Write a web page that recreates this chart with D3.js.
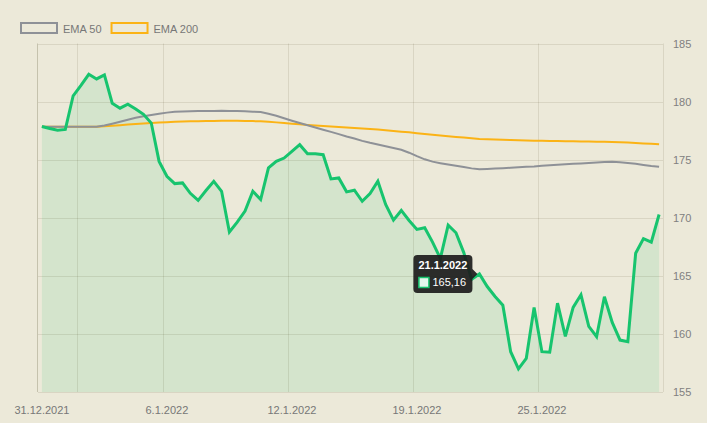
<!DOCTYPE html>
<html>
<head>
<meta charset="utf-8">
<script src="https://cdn.jsdelivr.net/npm/d3@7"></script>
<style>
  html, body { margin: 0; padding: 0; background: #ece9d9; }
  svg { display: block; font-family: "Liberation Sans", Arial, sans-serif; }
</style>
</head>
<body>
<svg id="chart" width="707" height="423"></svg>
<script>
// ---- data ----
const days = ["31.12.2021","3.1.2022","4.1.2022","5.1.2022","6.1.2022","7.1.2022","10.1.2022","11.1.2022",
  "12.1.2022","13.1.2022","14.1.2022","18.1.2022","19.1.2022","20.1.2022","21.1.2022","24.1.2022",
  "25.1.2022","26.1.2022","27.1.2022","28.1.2022"];
const sessions = ["09:30","11:30","13:30","15:30"];
const categories = days.flatMap(d => sessions.map(s => d + " " + s));

const price = [177.86,177.68,177.54,177.6, 180.5,181.4,182.35,181.95, 182.3,179.86,179.43,179.78,
  179.37,178.9,178.15,174.85, 173.57,172.94,173.0,172.1, 171.5,172.34,173.14,172.28,
  168.77,169.62,170.57,172.28, 171.57,174.29,174.85,175.14, 175.71,176.29,175.51,175.51,
  175.43,173.34,173.43,172.23, 172.37,171.42,172.08,173.14, 171.14,169.8,170.63,169.77,
  169.0,169.14,167.9,166.5, 169.37,168.71,167.0,164.7, 165.16,164.08,163.22,162.47,
  158.47,156.99,157.9,162.28, 158.47,158.42,162.65,159.79, 162.28,163.37,160.65,159.76,
  163.2,160.99,159.47,159.33, 166.94,168.2,167.9,170.28];

const ema50 = [177.83,177.83,177.83,177.83,177.83,177.83,177.83,177.83, 177.95,178.1,178.26,178.43,
  178.6,178.74,178.85,178.96, 179.05,179.12,179.14,179.16, 179.18,179.19,179.2,179.21,
  179.2,179.18,179.16,179.13, 179.1,178.96,178.78,178.56, 178.35,178.15,177.96,177.77,
  177.58,177.39,177.2,177.0, 176.82,176.62,176.45,176.3, 176.15,176.0,175.85,175.6,
  175.3,175.03,174.83,174.7, 174.58,174.47,174.36,174.25, 174.18,174.2,174.23,174.26,
  174.3,174.34,174.38,174.42, 174.48,174.52,174.56,174.6, 174.64,174.68,174.72,174.76,
  174.79,174.81,174.78,174.72, 174.65,174.55,174.46,174.4];

const ema200 = [177.83,177.83,177.83,177.83,177.83,177.83,177.83,177.83, 177.87,177.92,177.97,178.02,
  178.07,178.12,178.16,178.19, 178.23,178.26,178.28,178.3, 178.31,178.32,178.33,178.34,
  178.34,178.34,178.33,178.32, 178.3,178.26,178.21,178.15, 178.1,178.04,177.99,177.94,
  177.89,177.85,177.81,177.77, 177.73,177.69,177.65,177.6, 177.54,177.47,177.41,177.35,
  177.27,177.2,177.14,177.08, 177.02,176.96,176.9,176.84, 176.78,176.75,176.73,176.71,
  176.69,176.67,176.65,176.63, 176.62,176.61,176.6,176.59, 176.58,176.57,176.56,176.55,
  176.54,176.52,176.5,176.47, 176.44,176.4,176.36,176.32];

const yTicks = [155,160,165,170,175,180,185];
const xLabelCats = [categories[0], categories[16], categories[32], categories[48], categories[64]];
const xGridCats = [categories[5], categories[16], categories[32], categories[48], categories[64]];
const legendItems = [{name: "EMA 50", color: "#8e9197"}, {name: "EMA 200", color: "#fbb316"}];
const tooltipIndex = 56;
const tooltipValueText = "165,16";

// ---- layout ----
(function draw() {
const svg = d3.select("#chart");
const pLeft = 38, pRight = 663, pTop = 43.5, pBottom = 392;
const x = d3.scaleBand().domain(categories).range([pLeft, pRight]);
const bw = x.bandwidth();
const cx = c => x(c) + bw / 2;
const y = d3.scaleLinear().domain([155, 185]).range([pBottom, pTop]);

svg.append("rect").attr("width", 707).attr("height", 423).attr("fill", "#ece9d9");

const rows = categories.map((c, i) => ({c, p: price[i], e50: ema50[i], e200: ema200[i]}));
svg.append("path").datum(rows)
  .attr("fill", "#d4e4cc")
  .attr("d", d3.area().x(d => cx(d.c)).y0(y(155)).y1(d => y(d.p)));

const grid = svg.append("g").attr("stroke", "rgba(60,55,20,0.11)").attr("stroke-width", 1);
grid.selectAll("line.h").data(yTicks).join("line")
  .attr("x1", pLeft).attr("x2", pRight)
  .attr("y1", d => Math.round(y(d)) + 0.5).attr("y2", d => Math.round(y(d)) + 0.5);
grid.selectAll("line.v").data(xGridCats).join("line")
  .attr("x1", d => Math.round(x(d)) + 0.5).attr("x2", d => Math.round(x(d)) + 0.5)
  .attr("y1", pTop).attr("y2", pBottom);
grid.append("line").attr("x1", pRight + 0.5).attr("x2", pRight + 0.5).attr("y1", pTop).attr("y2", pBottom);
svg.append("line").attr("x1", pLeft - 0.5).attr("x2", pLeft - 0.5).attr("y1", pTop).attr("y2", pBottom)
  .attr("stroke", "rgba(60,55,20,0.22)");

const lineOf = key => d3.line().x(d => cx(d.c)).y(d => y(d[key]));
svg.append("path").datum(rows).attr("fill", "none").attr("stroke", legendItems[1].color)
  .attr("stroke-width", 2).attr("d", lineOf("e200"));
svg.append("path").datum(rows).attr("fill", "none").attr("stroke", legendItems[0].color)
  .attr("stroke-width", 2).attr("d", lineOf("e50"));
svg.append("path").datum(rows).attr("fill", "none").attr("stroke", "#17c46e")
  .attr("stroke-width", 3).attr("stroke-linejoin", "miter").attr("d", lineOf("p"));

const yAxis = svg.append("g").attr("transform", `translate(${pRight},0)`)
  .call(d3.axisRight(y).tickValues(yTicks).tickSize(0).tickPadding(10));
yAxis.select(".domain").remove();
yAxis.selectAll("text").attr("fill", "#808080").style("font-size", "11px")
  .style("font-family", "'Liberation Sans', Arial, sans-serif");

const xAxis = svg.append("g").attr("transform", `translate(0,${pBottom})`)
  .call(d3.axisBottom(x).tickValues(xLabelCats).tickFormat(c => c.split(" ")[0]).tickSize(0).tickPadding(14));
xAxis.select(".domain").remove();
xAxis.selectAll("text").attr("fill", "#777").style("font-size", "11px")
  .style("font-family", "'Liberation Sans', Arial, sans-serif");

const lg = svg.append("g");
let lx = 20;
legendItems.forEach(it => {
  lg.append("rect").attr("x", lx + 1).attr("y", 23).attr("width", 36).attr("height", 10)
    .attr("fill", "none").attr("stroke", it.color).attr("stroke-width", 2);
  const t = lg.append("text").attr("x", lx + 43).attr("y", 32.5).attr("fill", "#777")
    .style("font-size", "11px").text(it.name);
  lx += 43 + t.node().getComputedTextLength() + 9;
});

const tc = categories[tooltipIndex];
const px = cx(tc), py = y(price[tooltipIndex]);
const bx1 = px - 7, bx0 = bx1 - 59, by0 = py - 19, by1 = py + 19, r = 4;
const tip = svg.append("g");
tip.append("path")
  .attr("d", `M${bx0 + r},${by0} H${bx1 - r} Q${bx1},${by0} ${bx1},${by0 + r} V${py - 5} L${px - 2},${py} L${bx1},${py + 5} V${by1 - r} Q${bx1},${by1} ${bx1 - r},${by1} H${bx0 + r} Q${bx0},${by1} ${bx0},${by1 - r} V${by0 + r} Q${bx0},${by0} ${bx0 + r},${by0} Z`)
  .attr("fill", "rgba(28,28,28,0.92)");
tip.append("text").attr("x", bx0 + 5).attr("y", by0 + 14).attr("fill", "#fff")
  .style("font-size", "11px").style("font-weight", "bold").text(tc.split(" ")[0]);
tip.append("rect").attr("x", bx0 + 5.5).attr("y", by0 + 22.5).attr("width", 10).attr("height", 10)
  .attr("fill", "#e4f6ec").attr("stroke", "#17c46e").attr("stroke-width", 1.5);
tip.append("text").attr("x", bx0 + 19).attr("y", by0 + 31.5).attr("fill", "#fff")
  .style("font-size", "11px").text(tooltipValueText);
})();
</script>
</body>
</html>
